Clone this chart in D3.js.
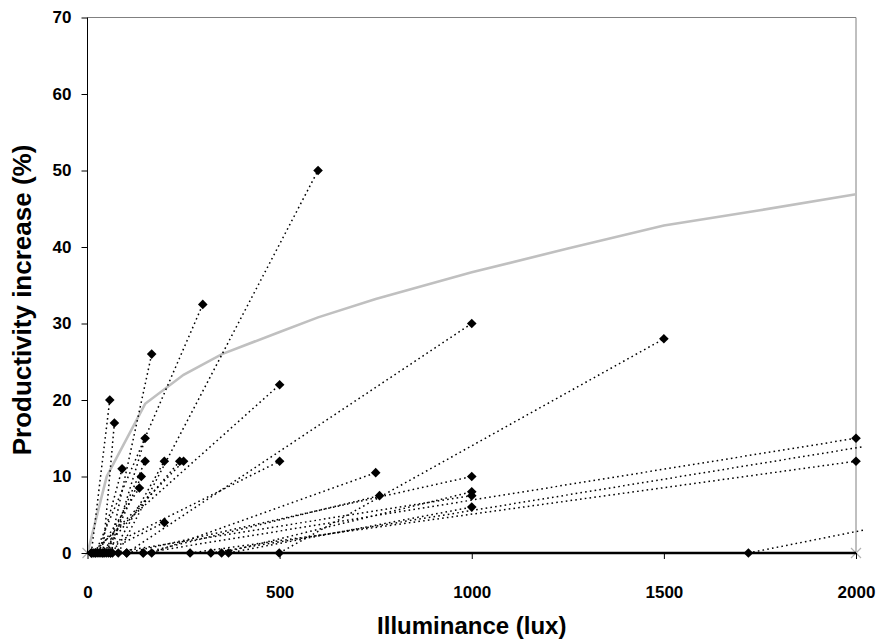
<!DOCTYPE html>
<html>
<head>
<meta charset="utf-8">
<script src="https://cdn.jsdelivr.net/npm/d3@7"></script>
<style>
  body { margin: 0; background: #fff; }
  svg text { font-family: "Liberation Sans", Arial, sans-serif; font-weight: bold; fill: #000; }
</style>
</head>
<body>
<div id="chart"></div>
<script>
// each study: illuminance raised from startLux to endLux, giving endGain % productivity
const startLux = [80, 20, 55, 10, 40, 30, 60, 45, 50, 25, 65, 35, 15, 40, 10, 20, 102, 167, 145, 102, 349, 60, 367, 499, 145, 267, 321, 1720];
const endLux   = [600, 300, 167, 58, 70, 90, 150, 150, 140, 135, 200, 240, 250, 200, 500, 500, 1000, 750, 760, 1000, 1000, 1000, 1000, 1500, 2000, 2000, 2020, 2020];
const endGain  = [50, 32.5, 26, 20, 17, 11, 15, 12, 10, 8.5, 12, 12, 12, 4, 22, 12, 30, 10.5, 7.5, 10, 8, 7.5, 6, 28, 15, 12, 13.9, 3];

// fitted trend (grey)
const curveLux  = [0, 50, 150, 250, 350, 500, 600, 750, 1000, 1250, 1500, 1750, 2000];
const curveGain = [0, 10, 19.5, 23.3, 26, 28.9, 30.8, 33.2, 36.7, 39.8, 42.8, 44.8, 46.9];

const xTicks = [0, 500, 1000, 1500, 2000];
const yTicks = [0, 10, 20, 30, 40, 50, 60, 70];

const width = 879, height = 639;
const padding = { top: 17.5, right: 23, bottom: 86, left: 87.5 };

const svg = d3.select("#chart")
    .append("svg")
    .attr("width", width)
    .attr("height", height);

const xScale = d3.scaleLinear()
    .domain([0, 2000])
    .range([padding.left, width - padding.right]);
const yScale = d3.scaleLinear()
    .domain([0, 70])
    .range([height - padding.bottom, padding.top]);

// plot frame: grey top and right edges
svg.append("path")
    .attr("d", "M" + xScale(0) + "," + yScale(70) + "H" + xScale(2000) + "V" + yScale(0))
    .attr("fill", "none")
    .attr("stroke", "#808080")
    .attr("stroke-width", 1);

// grey trend line
svg.append("path")
    .datum(curveLux.map((v, i) => [v, curveGain[i]]))
    .attr("fill", "none")
    .attr("stroke", "#c0c0c0")
    .attr("stroke-width", 2.6)
    .attr("d", d3.line().x(d => xScale(d[0])).y(d => yScale(d[1])));

// grey x markers at the ends of the baseline
svg.append("g")
    .selectAll("path")
    .data([0, 2000])
    .enter()
    .append("path")
    .attr("transform", d => "translate(" + xScale(d) + "," + yScale(0) + ")")
    .attr("d", "M-5,-5L5,5M-5,5L5,-5")
    .attr("stroke", "#b0b0b0")
    .attr("stroke-width", 1.2);

// dotted study segments
const studies = startLux.map((s, i) => ({ s: s, e: endLux[i], g: endGain[i] }));

svg.append("g")
    .selectAll("line")
    .data(studies)
    .enter()
    .append("line")
    .attr("x1", d => xScale(d.s))
    .attr("y1", yScale(0))
    .attr("x2", d => xScale(d.e))
    .attr("y2", d => yScale(d.g))
    .attr("stroke", "#000")
    .attr("stroke-width", 1.5)
    .attr("stroke-dasharray", "1.6,3.2");

// axes
const yAxis = d3.axisLeft(yScale)
    .tickValues(yTicks)
    .tickSize(6)
    .tickPadding(10);
const gy = svg.append("g")
    .attr("transform", "translate(" + padding.left + ",0)")
    .call(yAxis);

const xAxis = d3.axisBottom(xScale)
    .tickValues(xTicks)
    .tickFormat(d3.format("d"))
    .tickSize(6)
    .tickPadding(27);
const gx = svg.append("g")
    .attr("transform", "translate(0," + yScale(0) + ")")
    .call(xAxis);

[gx, gy].forEach(g => {
    g.select(".domain").remove();
    g.selectAll(".tick line").attr("stroke", "#000");
    g.selectAll(".tick text")
        .style("font-size", "17px")
        .style("font-family", "'Liberation Sans', Arial, sans-serif")
        .style("font-weight", "bold");
});

svg.append("line")
    .attr("x1", xScale(0)).attr("x2", xScale(0))
    .attr("y1", yScale(70)).attr("y2", yScale(0))
    .attr("stroke", "#000");
svg.append("line")
    .attr("x1", xScale(0)).attr("x2", xScale(2000))
    .attr("y1", yScale(0)).attr("y2", yScale(0))
    .attr("stroke", "#000")
    .attr("stroke-width", 2.5);

// diamonds: starts on the baseline, ends at their gain
const diamond = "M0,-4.8L4.8,0L0,4.8L-4.8,0Z";
svg.append("g")
    .selectAll("path")
    .data(studies)
    .enter()
    .append("path")
    .attr("transform", d => "translate(" + xScale(d.s) + "," + yScale(0) + ")")
    .attr("d", diamond)
    .attr("fill", "#000");
svg.append("g")
    .selectAll("path")
    .data(studies.filter(d => d.e <= 2000))
    .enter()
    .append("path")
    .attr("transform", d => "translate(" + xScale(d.e) + "," + yScale(d.g) + ")")
    .attr("d", diamond)
    .attr("fill", "#000");

// axis titles
svg.append("text")
    .attr("x", xScale(1000))
    .attr("y", 634)
    .attr("text-anchor", "middle")
    .style("font-size", "24px")
    .text("Illuminance (lux)");

svg.append("text")
    .attr("transform", "translate(31,300) rotate(-90)")
    .attr("text-anchor", "middle")
    .style("font-size", "26px")
    .text("Productivity increase (%)");
</script>
</body>
</html>
